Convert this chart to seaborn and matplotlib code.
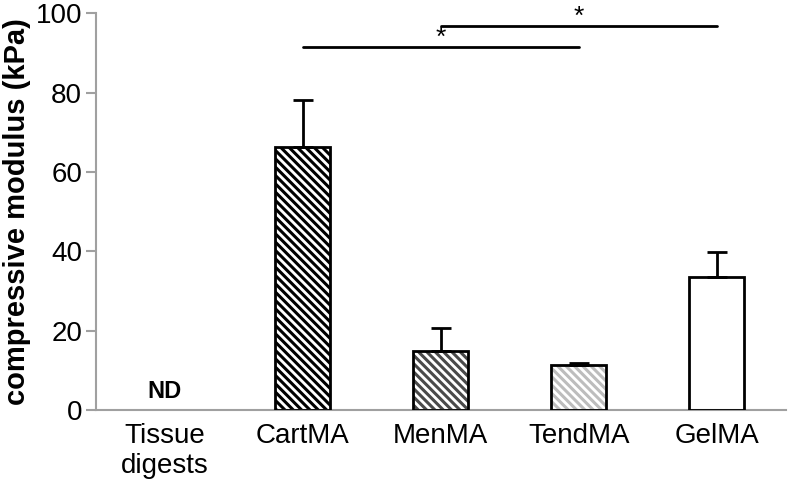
import numpy as np
import pandas as pd
import matplotlib
matplotlib.use('Agg')
import matplotlib.pyplot as plt
import seaborn as sns

groups = ['Tissue\ndigests', 'CartMA', 'MenMA', 'TendMA', 'GelMA']
modulus = [0.0, 66.2, 14.9, 11.3, 33.6]
sd_upper = [0.0, 11.9, 5.7, 0.5, 6.3]
hatch_colors = ['#808080', '#000000', '#4a4a4a', '#bdbdbd', '#ffffff']
hatches = ['', '\\\\\\\\', '\\\\\\\\', '\\\\\\\\', '']

# significance bars: (from group, to group, height)
sig_pairs = [(1, 3, 91.4), (2, 4, 96.7)]

df = pd.DataFrame({'group': groups, 'modulus': modulus})

sns.set_style('white')
plt.rcParams['font.family'] = ['Liberation Sans', 'DejaVu Sans']
plt.rcParams['text.color'] = 'black'
plt.rcParams['axes.labelcolor'] = 'black'
plt.rcParams['xtick.labelcolor'] = 'black'
plt.rcParams['ytick.labelcolor'] = 'black'
plt.rcParams['hatch.linewidth'] = 2.2

fig = plt.figure(figsize=(7.89, 4.87), dpi=100)
ax = fig.add_axes([0.1217, 0.158, 0.874, 0.815])

sns.barplot(data=df, x='group', y='modulus', color='white', width=0.4,
            errorbar=None, ax=ax)
for p, h, c in zip(ax.patches, hatches, hatch_colors):
    p.set_facecolor('white')
    p.set_hatch(h)
    p.set_edgecolor(c)
    p.set_linewidth(0)

x = np.arange(len(groups))
# black outlines on top of the hatch
ax.bar(x[1:], modulus[1:], width=0.4, fill=False, edgecolor='black', linewidth=2, zorder=3)
ax.errorbar(x[1:], modulus[1:], yerr=[np.zeros(4), sd_upper[1:]], fmt='none',
            ecolor='black', elinewidth=2, capsize=7, capthick=2, zorder=2)

ax.text(0, 1.8, 'ND', ha='center', va='bottom', fontsize=17, fontweight='bold')

for a, b, h in sig_pairs:
    ax.plot([a, b], [h, h], color='black', lw=2, clip_on=False)
    ax.text((a + b) / 2, h + 2.3, '*', ha='center', va='center', fontsize=19)

ax.set_xlim(-0.5, 4.5)
ax.set_ylim(0, 100)
ax.set_yticks([0, 20, 40, 60, 80, 100])
ax.set_xticks(x)
ax.set_xticklabels(groups)
ax.set_xticks(np.arange(-0.5, 5, 1), minor=True)
ax.tick_params(axis='x', which='major', length=0, labelsize=20, pad=9)
ax.tick_params(axis='x', which='minor', length=7, width=1.5, color='#a0a0a0')
ax.tick_params(axis='y', length=7, width=1.5, color='#a0a0a0', labelsize=20, pad=3, left=True)
ax.set_xlabel('')
ax.set_ylabel('compressive modulus (kPa)', fontsize=21, fontweight='bold', labelpad=3)

sns.despine(ax=ax)
for s in ['left', 'bottom']:
    ax.spines[s].set_color('#a0a0a0')
    ax.spines[s].set_linewidth(1.5)

fig.savefig('out.png', dpi=100)
